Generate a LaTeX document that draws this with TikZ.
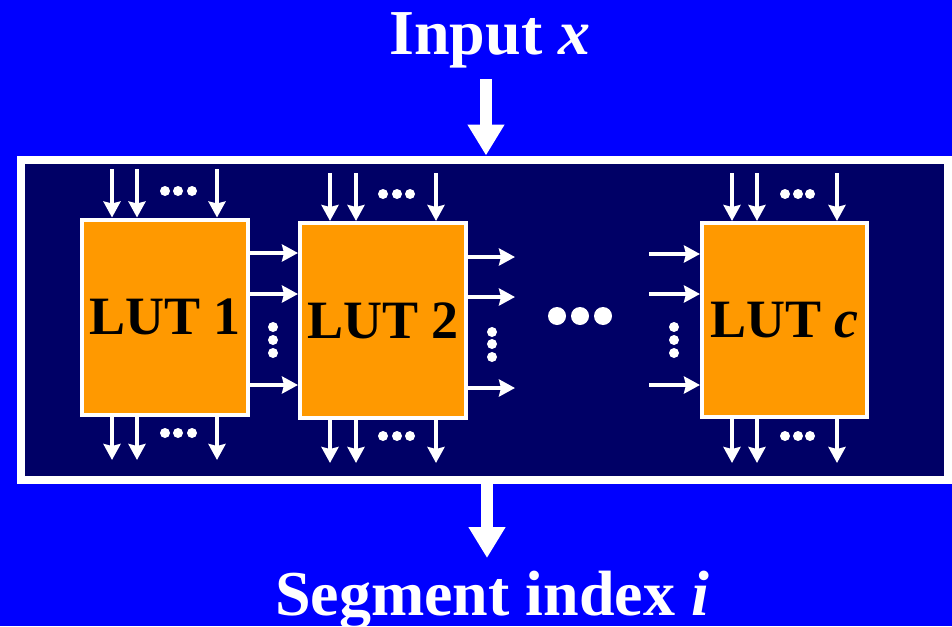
\documentclass[tikz,border=0pt]{standalone}
\usepackage{fontspec}
\setmainfont{Liberation Serif}
\usetikzlibrary{arrows.meta}
\definecolor{bgblue}{RGB}{0,0,255}
\definecolor{navy}{RGB}{0,0,102}
\definecolor{lutorange}{RGB}{255,153,0}
\begin{document}
\begin{tikzpicture}[x=1pt,y=-1pt,
  bigarrow/.style={draw=white,line width=12pt,-{Triangle[length=31pt,width=35pt]}},
  smallarrow/.style={draw=white,line width=4pt,-{Stealth[length=16pt,width=17pt,inset=2pt]}},
  lutbox/.style={draw=white,line width=4pt,fill=lutorange,inner sep=0pt,minimum width=166pt,minimum height=195pt,font=\fontsize{54}{60}\selectfont\bfseries},
  title/.style={text=white,font=\fontsize{64}{70}\selectfont\bfseries,anchor=base,inner sep=0pt},
  dotfill/.style={fill=white}]
\fill[bgblue] (0,0) rectangle (952,626);
\useasboundingbox (0,0) rectangle (952,626);
% frame
\node[draw=white,line width=8pt,fill=navy,inner sep=0pt,minimum width=927pt,minimum height=320pt] (frame) at (484.5,319.5) {};
% titles
\node[title] (in) at (490,55) {Input \textit{x}};
\node[title] (out) at (492,615) {Segment index \textit{i}};
\coordinate (intop) at (486,79);
\coordinate (outbot) at (487,558);
\draw[bigarrow] (intop) -- (intop |- frame.north);
\draw[bigarrow] (frame.south -| outbot) -- (outbot);
% LUTs
\node[lutbox] (L1) at (165,317) {LUT 1};
\node[lutbox] (L2) at (383,320.5) {LUT 2};
\node[lutbox,minimum width=165pt,minimum height=194pt] (Lc) at (784.5,320) {LUT \textit{c}};
% top inputs
\foreach \x in {112,137,217} {\coordinate (a1-\x) at (\x,169); \draw[smallarrow] (a1-\x) -- (a1-\x |- L1.north);}
\foreach \x in {330,356,436} {\coordinate (a2-\x) at (\x,173); \draw[smallarrow] (a2-\x) -- (a2-\x |- L2.north);}
\foreach \x in {732,757,837} {\coordinate (ac-\x) at (\x,173); \draw[smallarrow] (ac-\x) -- (ac-\x |- Lc.north);}
% bottom outputs
\foreach \x in {112,137,217} {\coordinate (b1-\x) at (\x,460); \draw[smallarrow] (b1-\x |- L1.south) -- (b1-\x);}
\foreach \x in {330,356,436} {\coordinate (b2-\x) at (\x,463); \draw[smallarrow] (b2-\x |- L2.south) -- (b2-\x);}
\foreach \x in {732,757,837} {\coordinate (bc-\x) at (\x,463); \draw[smallarrow] (bc-\x |- Lc.south) -- (bc-\x);}
% horizontal
\foreach \y in {253,294,385} {\coordinate (h12-\y) at (0,\y); \draw[smallarrow] (L1.east |- h12-\y) -- (L2.west |- h12-\y);}
\foreach \y/\k in {257/1,297/2,388/3} {\coordinate (h2-\k) at (515,\y); \draw[smallarrow] (L2.east |- h2-\k) -- (h2-\k);}
\foreach \y/\k in {254/1,294/2,385/3} {\coordinate (hc-\k) at (649,\y); \draw[smallarrow] (hc-\k) -- (Lc.west |- hc-\k);}
% dots
\foreach \x in {165,178,192} \fill[dotfill] (\x,191) circle (5pt);
\foreach \x in {165,178,192} \fill[dotfill] (\x,433) circle (5pt);
\foreach \x in {383,397,410} \fill[dotfill] (\x,194) circle (5pt);
\foreach \x in {383,397,410} \fill[dotfill] (\x,436) circle (5pt);
\foreach \x in {785,798,810} \fill[dotfill] (\x,194) circle (5pt);
\foreach \x in {785,798,810} \fill[dotfill] (\x,436) circle (5pt);
\foreach \y in {327,340,353} \fill[dotfill] (273,\y) circle (5pt);
\foreach \y in {332,344,357} \fill[dotfill] (492,\y) circle (5pt);
\foreach \y in {327,340,353} \fill[dotfill] (674,\y) circle (5pt);
\foreach \x in {557,580,603} \fill[dotfill] (\x,316) circle (9pt);
\end{tikzpicture}
\end{document}
